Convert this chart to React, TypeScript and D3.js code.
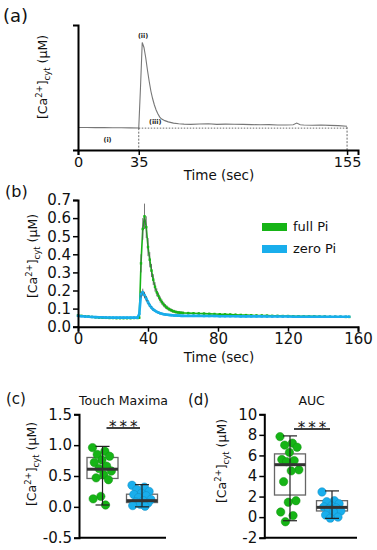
import * as d3 from "d3";
import { useRef, useEffect } from "react";

const FONT = "'DejaVu Sans', Verdana, sans-serif";
const GREEN = "#16b416";
const BLUE = "#19aeec";

// (a) schematic trace
const schemeTime = [0, 5, 10, 15, 20, 25, 30, 35, 36, 37, 38, 39, 40, 41, 42, 43, 44, 45, 46, 47, 48, 50, 52, 55, 58, 61, 65, 70, 75, 80, 85, 90, 95, 100, 105, 110, 115, 120, 124, 126, 128, 130, 135, 140, 145, 150, 155];
const schemeSignal = [0.18, 0.18, 0.179, 0.179, 0.178, 0.178, 0.177, 0.176, 0.5, 0.86, 0.82, 0.74, 0.64, 0.55, 0.47, 0.41, 0.36, 0.32, 0.29, 0.265, 0.25, 0.235, 0.225, 0.215, 0.21, 0.207, 0.205, 0.208, 0.21, 0.205, 0.207, 0.206, 0.205, 0.203, 0.202, 0.203, 0.2, 0.2, 0.202, 0.215, 0.202, 0.2, 0.198, 0.2, 0.197, 0.195, 0.19];
const schemeBaseline = 0.175;
const schemeTicks = [0, 35, 155];

// (b) mean traces
const traceTime = [0, 2, 4, 6, 8, 10, 12, 14, 16, 18, 20, 22, 24, 26, 28, 30, 32, 34,
  35, 36, 37, 38, 39, 40, 41, 42, 43, 44, 45, 46, 47, 48, 49, 50, 51, 52, 53, 54, 55, 56, 57, 58, 59, 60,
  63, 66, 69, 72, 75, 78, 81, 84, 87, 90, 93, 96, 99, 102, 105, 108, 111, 114, 117, 120, 123, 126, 129, 132, 135, 138, 141, 144, 147, 150, 153, 155];
const fullPi = [0.062, 0.06, 0.058, 0.056, 0.054, 0.052, 0.05, 0.05, 0.049, 0.048, 0.048, 0.047, 0.047, 0.047, 0.047, 0.047, 0.048, 0.048,
  0.05, 0.35, 0.54, 0.61, 0.55, 0.44, 0.37, 0.31, 0.26, 0.22, 0.19, 0.17, 0.15, 0.135, 0.122, 0.112, 0.104, 0.097, 0.092, 0.087, 0.084, 0.081, 0.079, 0.078, 0.077, 0.076,
  0.075, 0.074, 0.073, 0.072, 0.071, 0.07, 0.069, 0.068, 0.067, 0.066, 0.065, 0.064, 0.063, 0.062, 0.062, 0.061, 0.06, 0.06, 0.059, 0.059, 0.058, 0.058, 0.057, 0.057, 0.057, 0.056, 0.056, 0.055, 0.055, 0.055, 0.054, 0.054];
const fullPiErr = [0.006, 0.005, 0.005, 0.005, 0.005, 0.005, 0.005, 0.005, 0.005, 0.005, 0.005, 0.005, 0.005, 0.005, 0.005, 0.005, 0.005, 0.005,
  0.006, 0.05, 0.06, 0.07, 0.06, 0.05, 0.042, 0.036, 0.03, 0.026, 0.022, 0.019, 0.017, 0.015, 0.014, 0.013, 0.012, 0.011, 0.01, 0.01, 0.009, 0.009, 0.008, 0.008, 0.008, 0.008,
  0.007, 0.007, 0.007, 0.007, 0.006, 0.006, 0.006, 0.006, 0.006, 0.006, 0.005, 0.005, 0.005, 0.005, 0.005, 0.005, 0.005, 0.005, 0.005, 0.005, 0.005, 0.005, 0.005, 0.005, 0.005, 0.005, 0.005, 0.005, 0.005, 0.005, 0.005, 0.005];
const zeroPi = [0.06, 0.058, 0.056, 0.055, 0.054, 0.053, 0.052, 0.052, 0.051, 0.051, 0.05, 0.05, 0.05, 0.05, 0.05, 0.05, 0.05, 0.05,
  0.07, 0.18, 0.19, 0.175, 0.155, 0.135, 0.118, 0.105, 0.095, 0.088, 0.082, 0.078, 0.074, 0.071, 0.069, 0.067, 0.066, 0.065, 0.064, 0.063, 0.062, 0.062, 0.061, 0.061, 0.06, 0.06,
  0.06, 0.06, 0.06, 0.059, 0.059, 0.059, 0.058, 0.058, 0.058, 0.058, 0.057, 0.057, 0.057, 0.057, 0.057, 0.056, 0.056, 0.056, 0.056, 0.056, 0.055, 0.055, 0.055, 0.055, 0.055, 0.055, 0.055, 0.055, 0.055, 0.055, 0.055, 0.055];
const zeroPiErr = [0.004, 0.004, 0.004, 0.004, 0.004, 0.004, 0.004, 0.004, 0.004, 0.004, 0.004, 0.004, 0.004, 0.004, 0.004, 0.004, 0.004, 0.004,
  0.006, 0.018, 0.02, 0.018, 0.015, 0.012, 0.01, 0.009, 0.008, 0.007, 0.006, 0.006, 0.005, 0.005, 0.005, 0.005, 0.004, 0.004, 0.004, 0.004, 0.004, 0.004, 0.004, 0.004, 0.004, 0.004,
  0.004, 0.004, 0.004, 0.004, 0.004, 0.004, 0.004, 0.004, 0.004, 0.004, 0.004, 0.004, 0.004, 0.004, 0.004, 0.004, 0.004, 0.004, 0.004, 0.004, 0.004, 0.004, 0.004, 0.004, 0.004, 0.004, 0.004, 0.004, 0.004, 0.004, 0.004, 0.004];
const seriesNames = ["full Pi", "zero Pi"];
const traceYTicks = [0, 0.1, 0.2, 0.3, 0.4, 0.5, 0.6, 0.7];
const traceXTicks = [0, 40, 80, 120, 160];

// (c) touch maxima
const touchFull = [0.96, 0.9, 0.85, 0.82, 0.76, 0.72, 0.66, 0.62, 0.58, 0.52, 0.47, 0.44, 0.17, 0.13, 0.03];
const touchZero = [0.35, 0.32, 0.28, 0.25, 0.22, 0.2, 0.18, 0.15, 0.12, 0.1, 0.08, 0.06, 0.04, 0.02, 0.01];
const touchFullBox = [0.03, 0.46, 0.61, 0.8, 0.98]; // min, q1, median, q3, max
const touchZeroBox = [0.0, 0.07, 0.1, 0.205, 0.36];
const touchTicks = [-0.5, 0, 0.5, 1, 1.5];

// (d) AUC
const aucFull = [7.83, 7.2, 7.0, 6.8, 6.3, 5.6, 5.5, 5.4, 4.6, 4.5, 3.45, 1.6, 1.45, 0.5, 0.15, -0.45];
const aucZero = [2.45, 1.6, 1.5, 1.3, 1.1, 1.0, 0.9, 0.8, 0.6, 0.5, 0.2, 0.0, -0.1];
const aucFullBox = [-0.35, 2.15, 5.1, 6.15, 7.9];
const aucZeroBox = [-0.12, 0.6, 0.95, 1.6, 2.55];
const aucTicks = [-2, 0, 2, 4, 6, 8, 10];

function Axis({ scale, orient, transform, tickValues, format, fontSize = 15 }: any) {
  const ref = useRef<SVGGElement>(null);
  useEffect(() => {
    const ax = orient === "left" ? d3.axisLeft(scale) : d3.axisBottom(scale);
    ax.tickValues(tickValues).tickSizeOuter(0).tickSize(5).tickPadding(2);
    if (format) ax.tickFormat(format);
    const g = d3.select(ref.current);
    g.call(ax as any);
    g.attr("font-size", fontSize).attr("font-family", FONT);
    g.select(".domain").attr("stroke", "#000").attr("stroke-width", 2);
    g.selectAll(".tick line").attr("stroke", "#000").attr("stroke-width", 1.5);
    g.selectAll(".tick text").attr("fill", "#111");
  });
  return <g ref={ref} transform={transform} />;
}

function CaLabel({ x, y, size = 12.5 }: { x: number; y: number; size?: number }) {
  return (
    <text transform={`translate(${x},${y}) rotate(-90)`} textAnchor="middle" fontFamily={FONT} fontSize={size} fill="#111">
      [Ca<tspan fontSize={size * 0.68} dy={-size * 0.4}>2+</tspan>
      <tspan dy={size * 0.4}>]</tspan>
      <tspan fontSize={size * 0.68} dy={size * 0.25}>cyt</tspan>
      <tspan dy={-size * 0.25}> (μM)</tspan>
    </text>
  );
}

function BoxPanel({ y, x0, x1, centers, groups, boxes, ticks, format, title, sigY }: any) {
  const x = d3.scalePoint<string>().domain(seriesNames).range(centers);
  const colors = [GREEN, BLUE];
  const half = 15.5;
  const cap = 7;
  return (
    <g>
      <Axis scale={y} orient="left" transform={`translate(${x0},0)`} tickValues={ticks} format={format} />
      <line x1={x0} x2={x1} y1={y.range()[0]} y2={y.range()[0]} stroke="#000" strokeWidth={2} />
      <text x={(x0 + x1) / 2 + 1} y={405} textAnchor="middle" fontFamily={FONT} fontSize={12.5} fill="#111">{title}</text>
      {seriesNames.map((name, gi) => {
        const cx = x(name)!;
        const [mn, q1, med, q3, mx] = boxes[gi];
        return (
          <g key={name}>
            <rect x={cx - half} width={half * 2} y={y(q3)} height={y(q1) - y(q3)} fill="#fff" stroke="#666" strokeWidth={1.3} />
            {groups[gi].map((v: number, i: number) => {
              const j = (((i * 0.618034) % 1) - 0.5) * 20;
              return <circle key={i} cx={cx + j} cy={y(v)} r={4.2} fill={colors[gi]} stroke={d3.color(colors[gi])!.darker(0.6).toString()} strokeWidth={0.5} />;
            })}
            <line x1={cx} x2={cx} y1={y(mn)} y2={y(mx)} stroke="#222" strokeWidth={1.2} />
            <line x1={cx - cap} x2={cx + cap} y1={y(mn)} y2={y(mn)} stroke="#222" strokeWidth={1.2} />
            <line x1={cx - cap} x2={cx + cap} y1={y(mx)} y2={y(mx)} stroke="#222" strokeWidth={1.2} />
            <line x1={cx - half} x2={cx + half} y1={y(med)} y2={y(med)} stroke="#333" strokeWidth={3} />
          </g>
        );
      })}
      <line x1={x(seriesNames[0])! + 4} x2={x(seriesNames[1])! - 2} y1={sigY} y2={sigY} stroke="#000" strokeWidth={1.5} />
      <text x={(x(seriesNames[0])! + x(seriesNames[1])!) / 2 + 2.5} y={sigY + 4} textAnchor="middle" fontFamily={FONT} fontSize={15} letterSpacing={3} fill="#111">***</text>
    </g>
  );
}

export default function App() {
  // (a)
  const xA = d3.scaleLinear().domain([0, 161.3]).range([78, 358]);
  const yA = d3.scaleLinear().domain([0, 1]).range([150, 25]);
  const lineA = d3.line<number>().x((_, i) => xA(schemeTime[i])).y((d) => yA(d));

  // (b)
  const xB = d3.scaleLinear().domain([0, 160]).range([78, 358]);
  const yB = d3.scaleLinear().domain([0, 0.7]).range([326.7, 200]);
  const lineB = d3.line<number>().x((_, i) => xB(traceTime[i])).y((d) => yB(d));
  const series = [
    { name: seriesNames[0], values: fullPi, err: fullPiErr, color: GREEN, width: 1.6 },
    { name: seriesNames[1], values: zeroPi, err: zeroPiErr, color: BLUE, width: 2.6 },
  ];

  // (c), (d)
  const yC = d3.scaleLinear().domain([-0.5, 1.5]).range([537.7, 414.3]);
  const yD = d3.scaleLinear().domain([-2, 10]).range([537.7, 414.3]);

  return (
    <svg width={377} height={550} style={{ position: "absolute", left: 0, top: 0, background: "#fff" }} fontFamily={FONT}>
      {/* panel (a) */}
      <text x={3} y={22} fontSize={18} fill="#111">(a)</text>
      <path d={lineA(schemeSignal)!} fill="none" stroke="#777" strokeWidth={1.1} />
      <line x1={xA(35)} x2={xA(155)} y1={yA(schemeBaseline)} y2={yA(schemeBaseline)} stroke="#444" strokeWidth={0.8} strokeDasharray="1.5,1.5" />
      <line x1={xA(35)} x2={xA(35)} y1={yA(schemeBaseline)} y2={yA(0)} stroke="#444" strokeWidth={0.8} strokeDasharray="2,1.5" />
      <line x1={xA(155)} x2={xA(155)} y1={yA(schemeBaseline) - 1} y2={yA(0)} stroke="#444" strokeWidth={0.8} strokeDasharray="2,1.5" />
      <Axis scale={xA} orient="bottom" transform={`translate(0,${yA(0)})`} tickValues={schemeTicks} fontSize={14.5} />
      <Axis scale={yA} orient="left" transform={`translate(${xA(0)},0)`} tickValues={[]} />
      <text x={xA(37.5)} y={38} textAnchor="middle" fontSize={6.5} fontWeight="bold" fill="#222">(ii)</text>
      <text x={xA(44.5)} y={124} textAnchor="middle" fontSize={6.5} fontWeight="bold" fill="#222">(iii)</text>
      <text x={xA(17)} y={142} textAnchor="middle" fontSize={6.5} fontWeight="bold" fill="#222">(i)</text>
      <text x={219} y={180} textAnchor="middle" fontSize={13.5} fill="#111">Time (sec)</text>
      <CaLabel x={47} y={77} size={12.5} />

      {/* panel (b) */}
      <text x={5} y={197} fontSize={16} fill="#111">(b)</text>
      {series.map((s) => (
        <g key={s.name}>
          <path d={lineB(s.values)!} fill="none" stroke={s.color} strokeWidth={s.width} />
          {s.values.map((v, i) => (
            <line key={"e" + i} x1={xB(traceTime[i])} x2={xB(traceTime[i])} y1={yB(v - s.err[i])} y2={yB(v + s.err[i])} stroke="#555" strokeWidth={0.8} />
          ))}
          {s.values.map((v, i) => (
            <rect key={"m" + i} x={xB(traceTime[i]) - 1.2} y={yB(v) - 1.2} width={2.4} height={2.4} fill={s.color} />
          ))}
        </g>
      ))}
      <Axis scale={yB} orient="left" transform={`translate(${xB(0)},0)`} tickValues={traceYTicks} format={(d: number) => d.toFixed(1)} />
      <Axis scale={xB} orient="bottom" transform={`translate(0,${yB(0)})`} tickValues={traceXTicks} />
      <text x={219} y={362} textAnchor="middle" fontSize={13.5} fill="#111">Time (sec)</text>
      <CaLabel x={37} y={256} size={12.5} />
      {series.map((s, i) => (
        <g key={"lg" + s.name} transform={`translate(262,${223 + i * 22})`}>
          <rect width={25} height={8} fill={s.color} />
          <text x={31} y={8} fontSize={13} fill="#111">{s.name}</text>
        </g>
      ))}

      {/* panel (c) */}
      <text x={6} y={404} fontSize={15} fill="#111">(c)</text>
      <BoxPanel y={yC} x0={79} x1={166} centers={[102.5, 142]} groups={[touchFull, touchZero]} boxes={[touchFullBox, touchZeroBox]}
        ticks={touchTicks} format={(d: number) => d.toFixed(1)} title="Touch Maxima" sigY={428} />
      <CaLabel x={36} y={464} size={12.5} />

      {/* panel (d) */}
      <text x={188} y={405} fontSize={15} fill="#111">(d)</text>
      <BoxPanel y={yD} x0={264.3} x1={357} centers={[290, 332]} groups={[aucFull, aucZero]} boxes={[aucFullBox, aucZeroBox]}
        ticks={aucTicks} format={(d: number) => String(d)} title="AUC" sigY={429} />
      <CaLabel x={226} y={461} size={12.5} />
    </svg>
  );
}
